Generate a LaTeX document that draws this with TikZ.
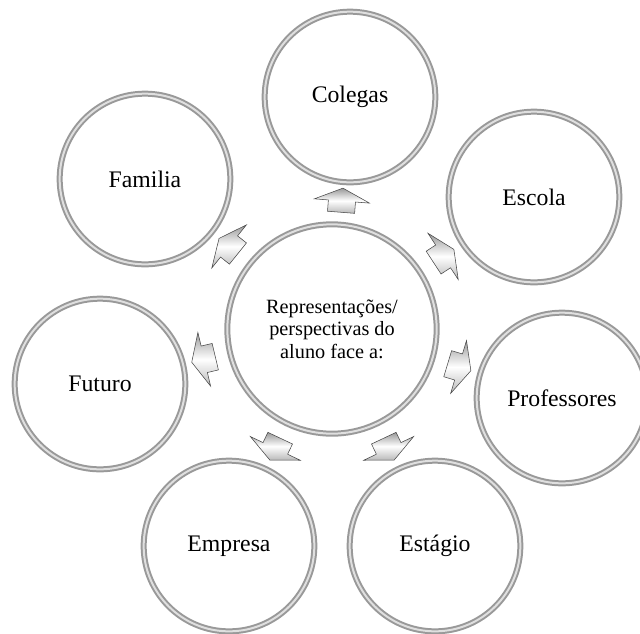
\documentclass[tikz,border=0pt]{standalone}
\usepackage{fontspec}
\setmainfont{Liberation Serif}
\usetikzlibrary{shapes.arrows,positioning}
\tikzstyle{ring} = [circle, draw=gray!80, double=gray!25, double distance=1.5pt, line width=1.5pt, minimum size=128pt, inner sep=0pt, align=center, font=\fontsize{17.8}{20}\selectfont]
\tikzstyle{hub} = [ring, minimum size=157pt, font=\fontsize{15.2}{16.9}\selectfont]
\tikzstyle{blockarrow} = [single arrow, draw=gray!55!black, line width=0.4pt, top color=gray!80, bottom color=gray!55, middle color=white, minimum width=0pt, minimum height=0pt, inner xsep=6.5pt, inner ysep=10pt, single arrow head extend=10.5pt, single arrow tip angle=130, sloped, allow upside down]

\begin{document}
\begin{tikzpicture}[x=0.75pt, y=-0.75pt]
	\useasboundingbox (0,0) rectangle (640,633);
	% Place nodes
	\node [hub] (centre) at (332,329) {Representações/\\perspectivas do\\aluno face a:};
	\node [ring] (colegas) at (350,97) {Colegas};
	\node [ring] (escola) at (534,197) {Escola};
	\node [ring] (professores) at (562,398) {Professores};
	\node [ring] (estagio) at (435,546) {Estágio};
	\node [ring] (empresa) at (229,546) {Empresa};
	\node [ring] (futuro) at (100,384) {Futuro};
	\node [ring] (familia) at (145,179) {Familia};
	% Draw arrows
	\foreach \nm in {colegas,escola,professores,estagio,empresa,futuro,familia}
		\path (centre) -- node [blockarrow] {} (\nm);
\end{tikzpicture}
\end{document}
